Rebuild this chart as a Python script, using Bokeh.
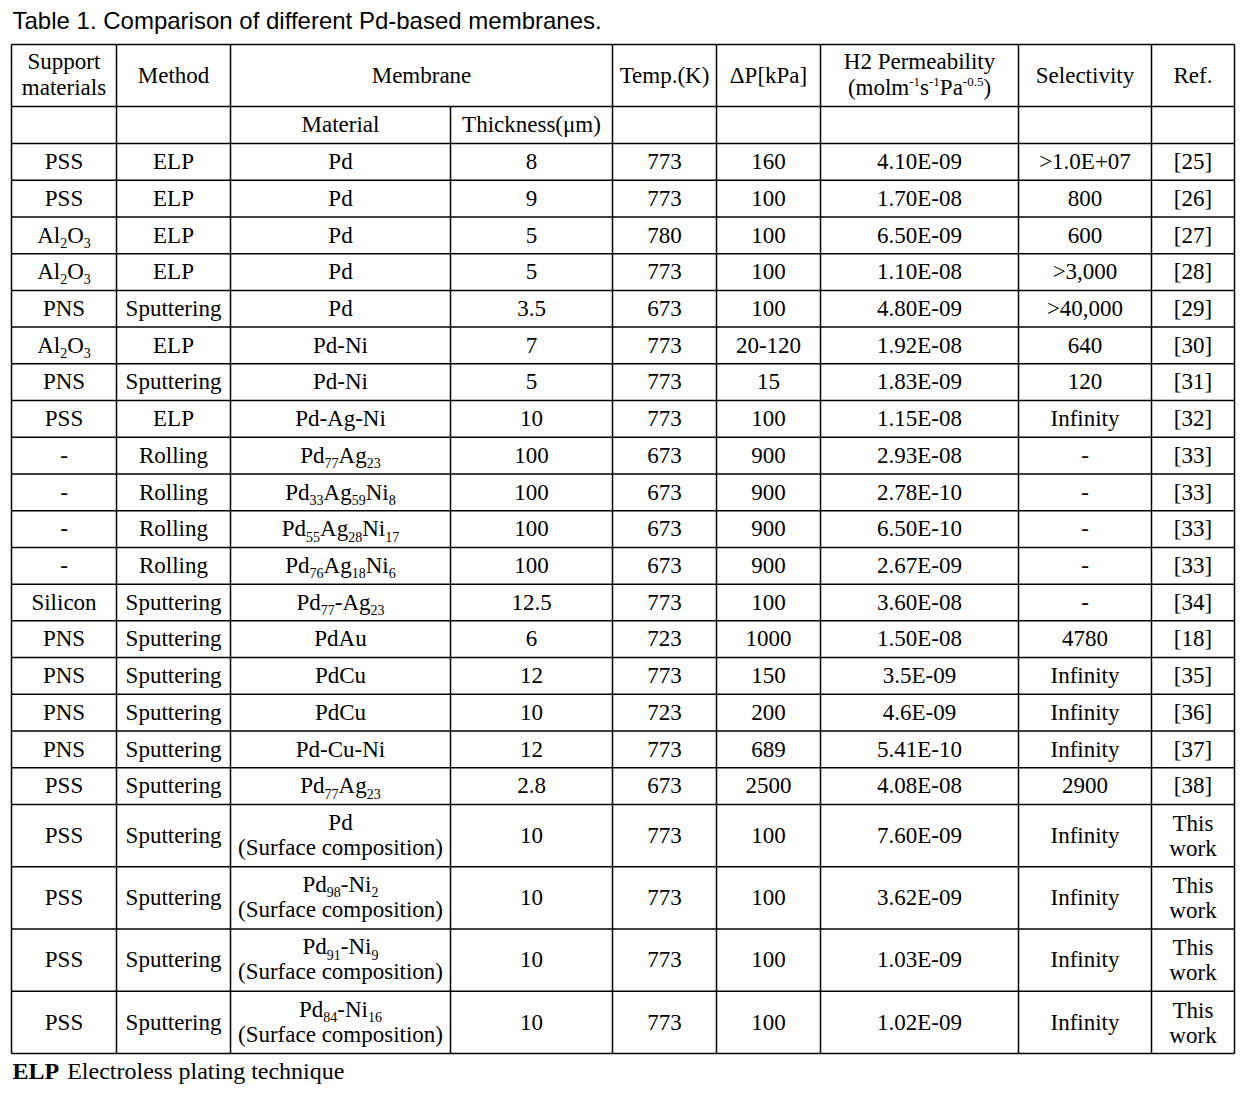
import re
from bokeh.plotting import figure
from bokeh.models import Range1d, ColumnDataSource
from bokeh.embed import file_html
from bokeh.resources import INLINE
from bokeh.core.properties import value

# ---------------- data ----------------
title_text = "Table 1. Comparison of different Pd-based membranes."
header_labels = ["Support\nmaterials", "Method", "Membrane", "Temp.(K)", "ΔP[kPa]",
                 "H2 Permeability\n(molm^{-1}s^{-1}Pa^{-0.5})", "Selectivity", "Ref."]
subheader_labels = ["Material", "Thickness(μm)"]
support = ["PSS", "PSS", "Al_{2}O_{3}", "Al_{2}O_{3}", "PNS", "Al_{2}O_{3}", "PNS", "PSS",
           "-", "-", "-", "-", "Silicon", "PNS", "PNS", "PNS", "PNS", "PSS",
           "PSS", "PSS", "PSS", "PSS"]
method = ["ELP", "ELP", "ELP", "ELP", "Sputtering", "ELP", "Sputtering", "ELP",
          "Rolling", "Rolling", "Rolling", "Rolling", "Sputtering", "Sputtering",
          "Sputtering", "Sputtering", "Sputtering", "Sputtering",
          "Sputtering", "Sputtering", "Sputtering", "Sputtering"]
material = ["Pd", "Pd", "Pd", "Pd", "Pd", "Pd-Ni", "Pd-Ni", "Pd-Ag-Ni",
            "Pd_{77}Ag_{23}", "Pd_{33}Ag_{59}Ni_{8}", "Pd_{55}Ag_{28}Ni_{17}",
            "Pd_{76}Ag_{18}Ni_{6}", "Pd_{77}-Ag_{23}", "PdAu", "PdCu", "PdCu",
            "Pd-Cu-Ni", "Pd_{77}Ag_{23}",
            "Pd\n(Surface composition)", "Pd_{98}-Ni_{2}\n(Surface composition)",
            "Pd_{91}-Ni_{9}\n(Surface composition)", "Pd_{84}-Ni_{16}\n(Surface composition)"]
thickness = ["8", "9", "5", "5", "3.5", "7", "5", "10", "100", "100", "100", "100",
             "12.5", "6", "12", "10", "12", "2.8", "10", "10", "10", "10"]
temp = ["773", "773", "780", "773", "673", "773", "773", "773", "673", "673", "673",
        "673", "773", "723", "773", "723", "773", "673", "773", "773", "773", "773"]
delta_p = ["160", "100", "100", "100", "100", "20-120", "15", "100", "900", "900",
           "900", "900", "100", "1000", "150", "200", "689", "2500", "100", "100",
           "100", "100"]
permeability = ["4.10E-09", "1.70E-08", "6.50E-09", "1.10E-08", "4.80E-09", "1.92E-08",
                "1.83E-09", "1.15E-08", "2.93E-08", "2.78E-10", "6.50E-10", "2.67E-09",
                "3.60E-08", "1.50E-08", "3.5E-09", "4.6E-09", "5.41E-10", "4.08E-08",
                "7.60E-09", "3.62E-09", "1.03E-09", "1.02E-09"]
selectivity = [">1.0E+07", "800", "600", ">3,000", ">40,000", "640", "120", "Infinity",
               "-", "-", "-", "-", "-", "4780", "Infinity", "Infinity", "Infinity",
               "2900", "Infinity", "Infinity", "Infinity", "Infinity"]
ref = ["[25]", "[26]", "[27]", "[28]", "[29]", "[30]", "[31]", "[32]", "[33]", "[33]",
       "[33]", "[33]", "[34]", "[18]", "[35]", "[36]", "[37]", "[38]",
       "This\nwork", "This\nwork", "This\nwork", "This\nwork"]
footnote_abbr = "ELP"
footnote_text = "Electroless plating technique"

# ---------------- layout ----------------
COL = [11, 116, 230, 450, 612, 716, 820, 1018, 1151, 1234]
TOP, HEAD_B, SUB_B = 44, 106, 143
ROW_EDGES = [SUB_B + 36.72 * i for i in range(19)] + [804 + 62.25 * i for i in range(1, 5)]

SERIF = "Liberation Serif"
SANS = "Liberation Sans"
MAIN, SUB, SUP = 23, 14, 13
BASE_FIX = 0.36  # renderer places the alphabetic baseline ~0.36em low

# Times / Liberation Serif advance widths (per 1000 em)
W = {' ': 250, '(': 333, ')': 333, '+': 564, '-': 333, '.': 250, ',': 250, '>': 564,
     '[': 333, ']': 333, 'A': 722, 'E': 611, 'N': 722, 'O': 722, 'P': 556, 'S': 556,
     'C': 667, 'H': 722, 'T': 611, 'a': 444, 'b': 500, 'c': 444, 'd': 500, 'e': 444,
     'f': 333, 'g': 500, 'h': 500, 'i': 278, 'k': 500, 'l': 278, 'm': 778, 'n': 500,
     'o': 500, 'p': 500, 'r': 333, 's': 389, 't': 278, 'u': 500, 'w': 722, 'y': 500}
for d in "0123456789":
    W[d] = 500


def width(s, size):
    return sum(W.get(ch, 500) for ch in s) * size / 1000.0


pieces = {}  # (font, style, align) -> dict of lists


def add(font, style, align, x, y, text, size):
    d = pieces.setdefault((font, style, align), dict(x=[], y=[], text=[], size=[]))
    d["x"].append(x)
    d["y"].append(y - BASE_FIX * size)
    d["text"].append(text)
    d["size"].append(f"{size}px")


def parse(s):
    segs = []
    for tok in re.split(r'(_\{[^}]*\}|\^\{[^}]*\})', s):
        if not tok:
            continue
        if tok.startswith('_{'):
            segs.append((tok[2:-1], 'sub'))
        elif tok.startswith('^{'):
            segs.append((tok[2:-1], 'sup'))
        else:
            segs.append((tok, 'n'))
    return segs


def place_line(s, cx, base):
    segs = parse(s)
    if len(segs) == 1 and segs[0][1] == 'n':
        add(SERIF, "normal", "center", cx, base, s, MAIN)
        return
    sizes = {'n': MAIN, 'sub': SUB, 'sup': SUP}
    offs = {'n': 0, 'sub': 4.5, 'sup': -8.5}
    total = sum(width(t, sizes[k]) for t, k in segs)
    x = cx - total / 2.0
    for t, k in segs:
        add(SERIF, "normal", "left", x, base + offs[k], t, sizes[k])
        x += width(t, sizes[k])


def place_cell(s, x0, x1, y0, y1, two=(-5, 20.5)):
    cx = (x0 + x1) / 2.0
    cy = (y0 + y1) / 2.0
    lines = s.split("\n")
    if len(lines) == 1:
        place_line(lines[0], cx, cy + 8)
    else:
        for ln, off in zip(lines, two):
            place_line(ln, cx, cy + off)


# header
head_cols = [(COL[0], COL[1]), (COL[1], COL[2]), (COL[2], COL[4]), (COL[4], COL[5]),
             (COL[5], COL[6]), (COL[6], COL[7]), (COL[7], COL[8]), (COL[8], COL[9])]
for lab, (a, b) in zip(header_labels, head_cols):
    place_cell(lab, a, b, TOP, HEAD_B, two=(-6, 20))
place_cell(subheader_labels[0], COL[2], COL[3], HEAD_B, SUB_B)
place_cell(subheader_labels[1], COL[3], COL[4], HEAD_B, SUB_B)

columns = [support, method, material, thickness, temp, delta_p, permeability,
           selectivity, ref]
for ci, col in enumerate(columns):
    for ri, txt in enumerate(col):
        two = (-5, 20) if ci == 2 else (-4, 21)
        place_cell(txt, COL[ci], COL[ci + 1], ROW_EDGES[ri], ROW_EDGES[ri + 1], two=two)

# title & footnote
add(SANS, "normal", "left", 12, 29, title_text, 24)
FOOT = 24
add(SERIF, "bold", "left", 12, 1079, footnote_abbr, FOOT)
add(SERIF, "normal", "left", 12 + (667 + 667 + 611) * FOOT / 1000.0 + 8, 1079,
    footnote_text, FOOT)

# ---------------- figure ----------------
PW, PH = 1237, 1087
p = figure(width=PW, height=PH, x_range=Range1d(0, PW), y_range=Range1d(PH, 0),
           output_backend="svg", toolbar_location=None, min_border=0,
           x_axis_type=None, y_axis_type=None)
p.outline_line_color = None
p.background_fill_color = "white"
p.border_fill_color = "white"

hx0, hx1, hy = [], [], []
for y in [TOP, HEAD_B] + ROW_EDGES:
    hx0.append(COL[0]); hx1.append(COL[-1]); hy.append(y)
p.segment(x0=hx0, y0=hy, x1=hx1, y1=hy, line_color="black", line_width=1.5)

vx, vy0, vy1 = [], [], []
bottom = ROW_EDGES[-1]
for i, x in enumerate(COL):
    vx.append(x)
    vy0.append(HEAD_B if i == 3 else TOP)
    vy1.append(bottom)
p.segment(x0=vx, y0=vy0, x1=vx, y1=vy1, line_color="black", line_width=1.5)

for (font, style, align), d in pieces.items():
    src = ColumnDataSource(d)
    p.text(x="x", y="y", text="text", source=src, text_font=value(font),
           text_font_size="size", text_font_style=style, text_align=align,
           text_baseline="alphabetic", text_color="black")

open("out.html", "w").write(file_html(p, INLINE, title="Table 1"))
